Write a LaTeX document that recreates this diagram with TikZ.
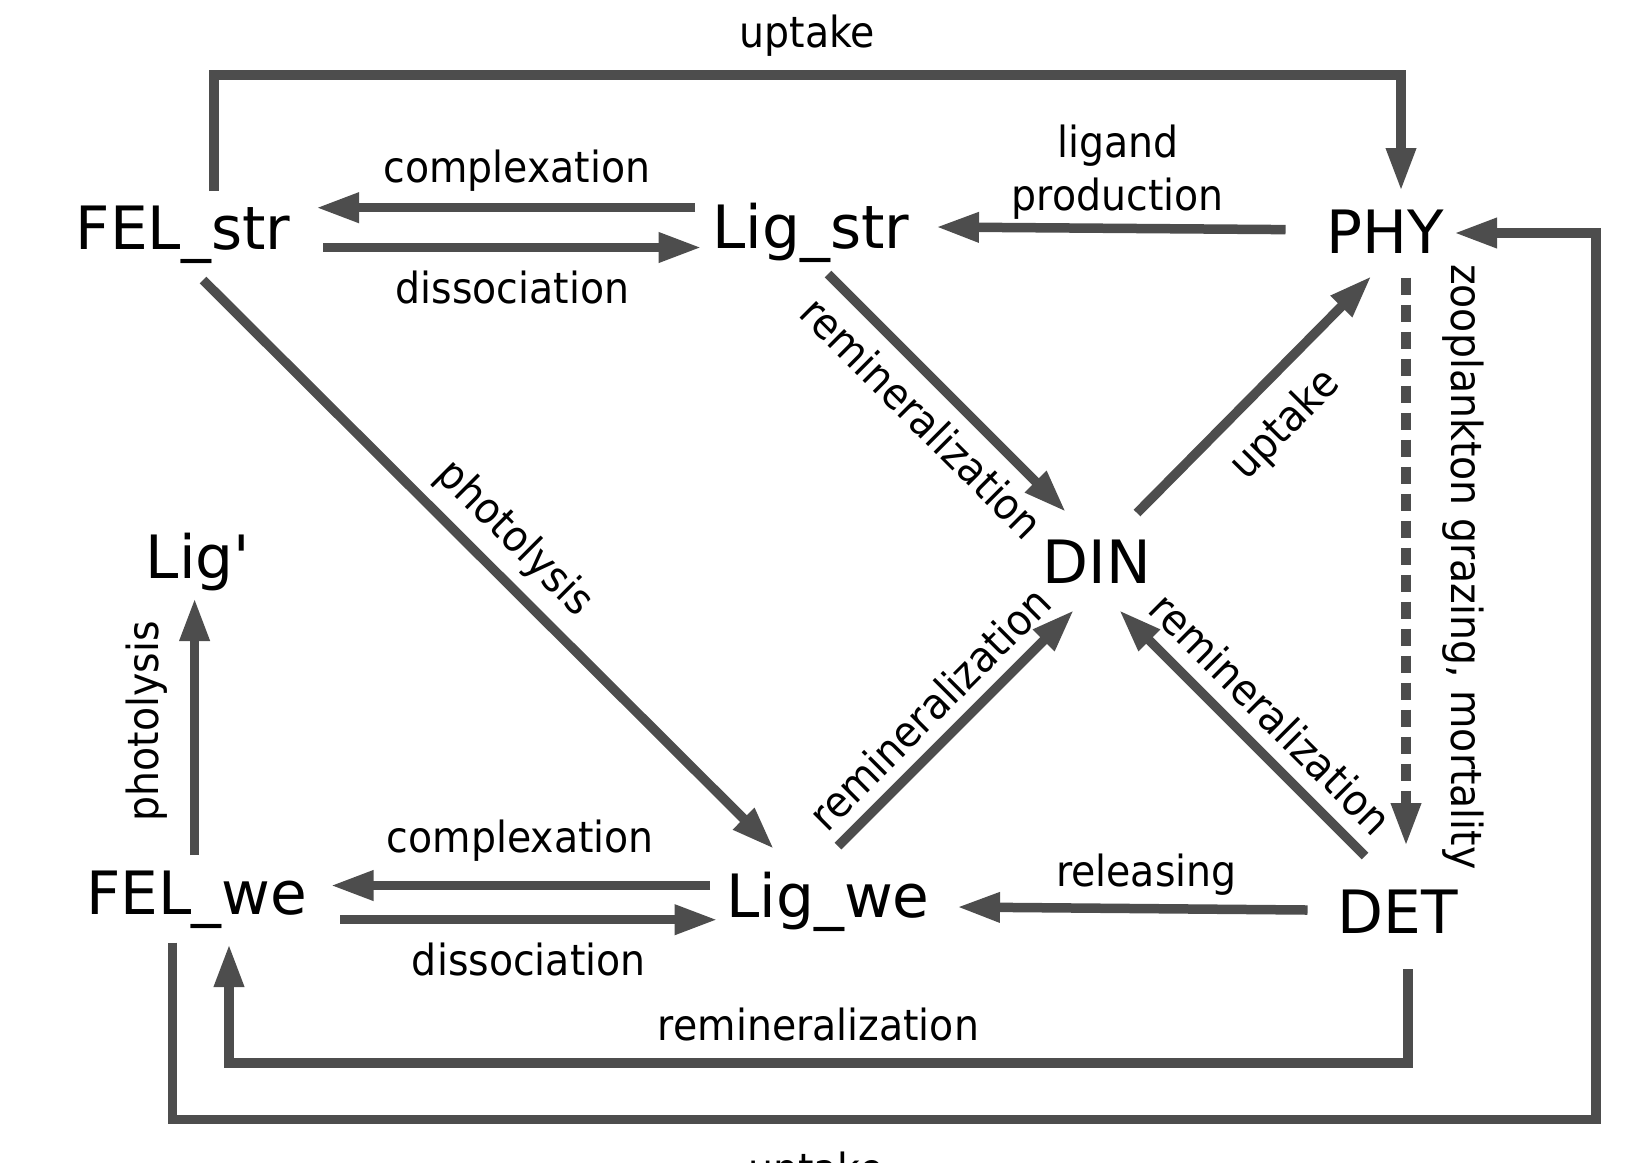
\documentclass[tikz,border=0pt]{standalone}
\usepackage{fontspec}
\setmainfont{DejaVu Sans}[Ligatures=TeXOff]
\newfontfamily\lblfont[FakeStretch=0.92]{DejaVu Sans}
\usetikzlibrary{arrows.meta,calc,positioning}
\definecolor{flowgray}{HTML}{4D4D4D}
\tikzset{
  pool/.style={anchor=base, inner sep=0pt, font=\fontsize{17pt}{20pt}\selectfont},
  flow/.style={draw=flowgray, line width=0.95mm, -{Triangle[length=4.3mm,width=2.8mm]}},
  lbl/.style={font=\lblfont\fontsize{12.2pt}{15pt}\selectfont, inner sep=0pt, text height=3.27mm, text depth=1.03mm},
  lbltwo/.style={font=\lblfont\fontsize{12.2pt}{15pt}\selectfont, inner sep=0pt, align=center},
}
\begin{document}
\begin{tikzpicture}[x=0.1mm, y=-0.1mm]
                \useasboundingbox (0,0) rectangle (1642,1162);
                \node[pool] (FEL_str) at (183,249) {FEL\_str};
                \node[pool] (Lig_str) at (811,248) {Lig\_str};
                \node[pool] (PHY) at (1385,253) {PHY};
                \node[pool] (Lig_p) at (198,578) {Lig'};
                \node[pool] (DIN) at (1097,583) {DIN};
                \node[pool] (FEL_we) at (197,914) {FEL\_we};
                \node[pool] (Lig_we) at (828,917) {Lig\_we};
                \node[pool] (DET) at (1398,933) {DET};
                \draw[flow] ($(FEL_str.base)+(31,-58)$) -- ++(0,-116) -| node[lbl, pos=0.25, above=1.2mm] {uptake} ($(PHY.base)+(16,-62)$);
                \draw[flow] ($(Lig_str.base)+(-116,-40.3)$) -- node[lbl, pos=0.47, above=0.97mm] {complexation} ($(FEL_str.base)+(133,-41.3)$);
                \draw[flow] ($(FEL_str.base)+(140,-1.5)$) -- node[lbl, midway, below=1.9mm] {dissociation} ($(Lig_str.base)+(-109.4,-0.5)$);
                \draw[flow] ($(PHY.base)+(-99.5,-23.4)$) -- node[lbltwo, pos=0.48, above=0.4mm] {ligand\\production} ($(Lig_str.base)+(125,-21)$);
                \draw[flow] ($(Lig_str.base)+(17,26)$) -- node[lbl, sloped, midway, below=1.34mm] {remineralization} ($(DIN.base)+(-31,-71)$);
                \draw[flow] ($(DIN.base)+(40,-70)$) -- node[lbl, sloped, midway, below=1.85mm] {uptake} ($(PHY.base)+(-13.5,23)$);
                \draw[flow] ($(FEL_str.base)+(20,31)$) -- node[lbl, sloped, midway, above=0.95mm] {photolysis} ($(Lig_we.base)+(-54,-68)$);
                \draw[flow] ($(Lig_we.base)+(10,-71)$) -- node[lbl, sloped, pos=0.485, above=0.17mm] {remineralization} ($(DIN.base)+(-23,27)$);
                \draw[flow] ($(DET.base)+(-33,-77)$) -- node[lbl, sloped, pos=0.48, above=0.34mm] {remineralization} ($(DIN.base)+(22,27)$);
                \draw[flow, dash pattern=on 1.7mm off 1mm] ($(PHY.base)+(21,24.5)$) -- node[lbl, sloped, pos=0.509, above=3.05mm] {zooplankton grazing, mortality} ($(DET.base)+(8,-87)$);
                \draw[flow] ($(FEL_we.base)+(-2.4,-59)$) -- node[lbl, sloped, pos=0.52, above=2.14mm] {photolysis} ($(Lig_p.base)+(-3.4,20)$);
                \draw[flow] ($(Lig_we.base)+(-118,-31.5)$) -- node[lbl, midway, above=1.77mm] {complexation} ($(FEL_we.base)+(133.5,-28.5)$);
                \draw[flow] ($(FEL_we.base)+(143,5.7)$) -- node[lbl, midway, below=1.83mm] {dissociation} ($(Lig_we.base)+(-110.4,2.7)$);
                \draw[flow] ($(DET.base)+(-90.5,-23)$) -- node[lbl, pos=0.46, above=0.75mm] {releasing} ($(Lig_we.base)+(129,-10)$);
                \draw[flow] ($(DET.base)+(10,36)$) -- ++(0,94) -| node[lbl, pos=0.25, above=0.7mm] {remineralization} ($(FEL_we.base)+(32,30)$);
                \draw[flow] ($(FEL_we.base)+(-24.4,28.7)$) -- ++(0,177) -- node[lbl, pos=0.452, below=2.7mm] {uptake} ++(1423.4,0) |- ($(PHY.base)+(69,-20)$);
            \end{tikzpicture}
\end{document}
